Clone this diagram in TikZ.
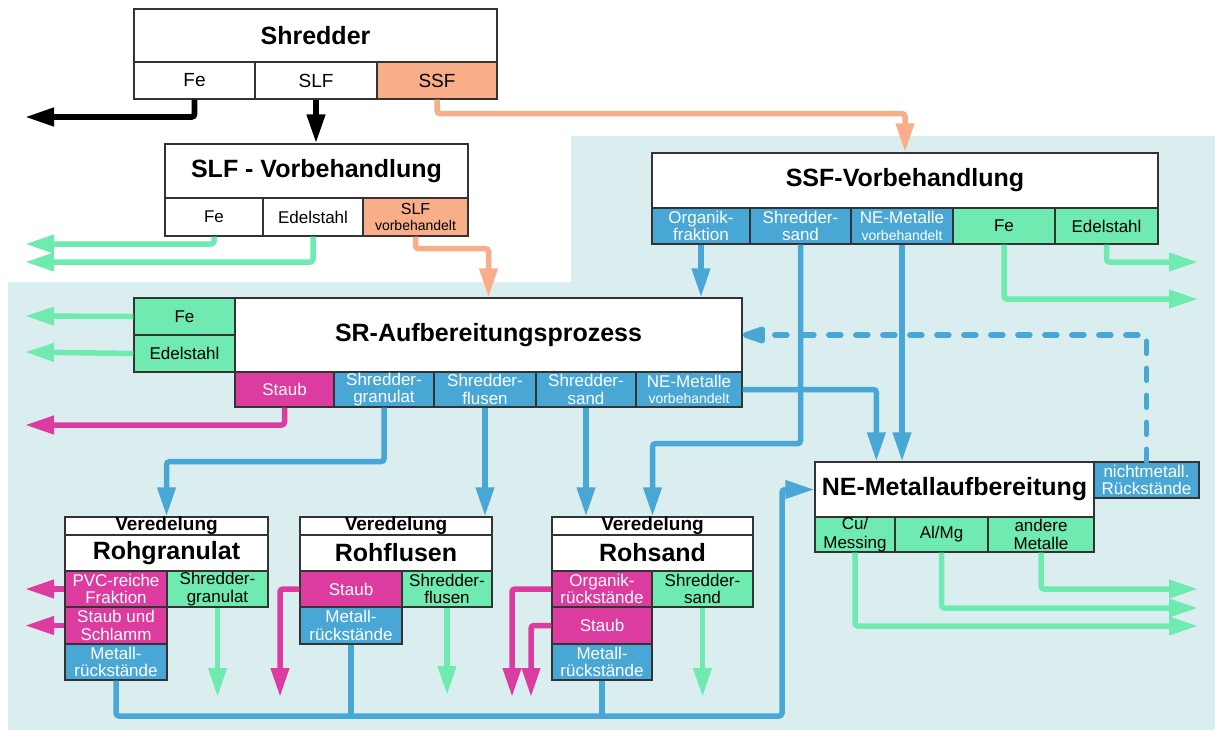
\documentclass[tikz,border=0pt]{standalone}
\usepackage{fontspec}
\setmainfont{Liberation Sans}
\usetikzlibrary{arrows.meta,calc}
\definecolor{bg}{HTML}{DAEEF0}
\definecolor{cgreen}{HTML}{6FEAB0}
\definecolor{cblue}{HTML}{48A7D4}
\definecolor{cmag}{HTML}{DC3BA0}
\definecolor{csal}{HTML}{F8AE88}
\definecolor{cline}{HTML}{333333}
\newcommand\ttlfont{\fontsize{25}{26}\selectfont\bfseries}
\newcommand\vbfont{\fontsize{14}{14}\selectfont}
\newcommand\vdfont{\fontsize{19}{19}\selectfont\bfseries}
\newcommand\rowfont{\fontsize{19}{19}\selectfont}
\tikzset{
  cellbox/.style={draw=cline, line width=1.3pt, inner sep=0pt},
  wcell/.style={fill=white, text=black},
  gcell/.style={fill=cgreen, text=black},
  bcell/.style={fill=cblue, text=white},
  mcell/.style={fill=cmag, text=white},
  scell/.style={fill=csal, text=black},
  celltext/.style={draw=none, fill=none, inner sep=0pt, align=center, font=\fontsize{17}{17.5}\selectfont},
  arr/.style={line width=5.5pt, rounded corners=3pt, -{Triangle[length=29pt,width=17.5pt]}},
  ln/.style={line width=5.5pt, rounded corners=3pt},
  dashln/.style={line width=5.5pt, line cap=round, dash pattern=on 12pt off 15pt, -{Triangle[length=29pt,width=17.5pt,round=false]}},
}
% name, x1, y1, x2, y2, style, text
\newcommand\cellnode[7]{%
  \node[cellbox,#6,minimum width={(#4-#2)*1pt},minimum height={(#5-#3)*1pt}] (#1) at ({(#2+#4)/2},{(#3+#5)/2}) {};
  \node[#6,celltext] at (#1.center) {#7};
}
\begin{document}
\begin{tikzpicture}[x=1pt,y=-1pt]
\useasboundingbox (0,0) rectangle (1215,731);
\fill[bg] (8,282) -- (571,282) -- (571,136) -- (1215,136) -- (1215,730) -- (8,730) -- cycle;

% Shredder
\cellnode{shr}{134}{9}{497}{62}{wcell}{\ttlfont Shredder}
\cellnode{shrfe}{134}{62}{255}{99}{wcell}{\rowfont Fe}
\cellnode{shrslf}{255}{62}{377}{99}{wcell}{\rowfont SLF}
\cellnode{shrssf}{377}{62}{497}{99}{scell}{\rowfont SSF}

% SLF-Vorbehandlung
\cellnode{slfv}{165}{144}{468}{198}{wcell}{\ttlfont SLF - Vorbehandlung}
\cellnode{slffe}{165}{198}{263}{236}{wcell}{Fe}
\cellnode{slfed}{263}{198}{363}{236}{wcell}{Edelstahl}
\cellnode{slfvb}{363}{198}{468}{236}{scell}{{\fontsize{16}{16}\selectfont SLF}\\[-2pt]{\vbfont vorbehandelt}}

% SSF-Vorbehandlung
\cellnode{ssfv}{652}{153}{1158}{208}{wcell}{\ttlfont SSF-Vorbehandlung}
\cellnode{ssforg}{652}{208}{750}{244}{bcell}{Organik-\\fraktion}
\cellnode{ssfsand}{750}{208}{851}{244}{bcell}{Shredder-\\sand}
\cellnode{ssfne}{851}{208}{953}{244}{bcell}{NE-Metalle\\[-1pt]{\vbfont vorbehandelt}}
\cellnode{ssffe}{953}{208}{1055}{244}{gcell}{Fe}
\cellnode{ssfed}{1055}{208}{1158}{244}{gcell}{Edelstahl}

% SR-Aufbereitungsprozess
\cellnode{sr}{235}{298}{742}{372}{wcell}{\ttlfont SR-Aufbereitungsprozess}
\cellnode{srfe}{134}{298}{235}{335}{gcell}{Fe}
\cellnode{sred}{134}{335}{235}{372}{gcell}{Edelstahl}
\cellnode{srstaub}{235}{372}{334}{407}{mcell}{Staub}
\cellnode{srgran}{334}{372}{434}{407}{bcell}{Shredder-\\granulat}
\cellnode{srflu}{434}{372}{536}{407}{bcell}{Shredder-\\flusen}
\cellnode{srsand}{536}{372}{636}{407}{bcell}{Shredder-\\sand}
\cellnode{srne}{636}{372}{742}{407}{bcell}{NE-Metalle\\[-1pt]{\vbfont vorbehandelt}}

% NE-Metallaufbereitung
\cellnode{ne}{815}{462}{1094}{517}{wcell}{\ttlfont NE-Metallaufbereitung}
\cellnode{nenm}{1094}{462}{1199}{498}{bcell}{nichtmetall.\\Rückstände}
\cellnode{necu}{815}{517}{895}{552}{gcell}{Cu/\\[1pt]Messing}
\cellnode{neal}{895}{517}{988}{552}{gcell}{Al/Mg}
\cellnode{neand}{988}{517}{1094}{552}{gcell}{andere\\[1pt]Metalle}

% Rohgranulat
\cellnode{rgv}{65}{517}{268}{535}{wcell}{\vdfont Veredelung}
\cellnode{rgt}{65}{535}{268}{571}{wcell}{\ttlfont Rohgranulat}
\cellnode{rgpvc}{65}{571}{167}{607}{mcell}{PVC-reiche\\Fraktion}
\cellnode{rggran}{167}{571}{268}{607}{gcell}{Shredder-\\granulat}
\cellnode{rgstaub}{65}{607}{167}{644}{mcell}{Staub und\\Schlamm}
\cellnode{rgmet}{65}{644}{167}{680}{bcell}{Metall-\\rückstände}

% Rohflusen
\cellnode{rfv}{300}{517}{492}{535}{wcell}{\vdfont Veredelung}
\cellnode{rft}{300}{535}{492}{571}{wcell}{\ttlfont Rohflusen}
\cellnode{rfstaub}{300}{571}{402}{607}{mcell}{Staub}
\cellnode{rfflu}{402}{571}{492}{607}{gcell}{Shredder-\\flusen}
\cellnode{rfmet}{300}{607}{402}{644}{bcell}{Metall-\\rückstände}

% Rohsand
\cellnode{rsv}{552}{517}{753}{535}{wcell}{\vdfont Veredelung}
\cellnode{rst}{552}{535}{753}{571}{wcell}{\ttlfont Rohsand}
\cellnode{rsorg}{552}{571}{652}{607}{mcell}{Organik-\\rückstände}
\cellnode{rssand}{652}{571}{753}{607}{gcell}{Shredder-\\sand}
\cellnode{rsstaub}{552}{607}{652}{644}{mcell}{Staub}
\cellnode{rsmet}{552}{644}{652}{680}{bcell}{Metall-\\rückstände}

% free ends
\coordinate (e1) at (25,117);
\coordinate (e2) at (25,244);
\coordinate (e3) at (25,262);
\coordinate (e4) at (1198,262);
\coordinate (e5) at (1198,299);
\coordinate (e6) at (25,316);
\coordinate (e7) at (25,352);
\coordinate (e8) at (25,425);
\coordinate (e9) at (25,589);
\coordinate (e10) at (25,626);
\coordinate (e11) at (215,697);
\coordinate (e12) at (280,697);
\coordinate (e13) at (447,695);
\coordinate (e14) at (512,697);
\coordinate (e15) at (531,697);
\coordinate (e16) at (703,697);
\coordinate (e17) at (1198,589);
\coordinate (e18) at (1198,608);
\coordinate (e19) at (1198,626);
\coordinate (bc) at (782,716);

% black
\draw[arr,black,line width=5.8pt] (shrfe.south) |- (e1);
\draw[arr,black,line width=5.8pt] (shrslf.south) -- (shrslf.south |- slfv.north);
% salmon
\draw[arr,csal] (shrssf.south) -- ++(0,14) -| (ssfv.north);
\draw[arr,csal] (slfvb.south) -- ++(0,12) -| (sr.north);
% green
\draw[arr,cgreen] (slffe.south) |- (e2);
\draw[arr,cgreen] (slfed.south) |- (e3);
\draw[arr,cgreen] (ssfed.south) |- (e4);
\draw[arr,cgreen] (ssffe.south) |- (e5);
\draw[arr,cgreen] (srfe.west) -- (e6);
\draw[arr,cgreen] (sred.west) -- (e7);
\draw[arr,cgreen] (rggran.south) -- (rggran.south |- e11);
\draw[arr,cgreen] (rfflu.south) -- (rfflu.south |- e13);
\draw[arr,cgreen] (rssand.south) -- (rssand.south |- e16);
\draw[arr,cgreen] (neand.south) |- (e17);
\draw[arr,cgreen] (neal.south) |- (e18);
\draw[arr,cgreen] (necu.south) |- (e19);
% magenta
\draw[arr,cmag] (srstaub.south) |- (e8);
\draw[arr,cmag] (rgpvc.west) -- (rgpvc.west -| e9);
\draw[arr,cmag] (rgstaub.west) -- (rgstaub.west -| e10);
\draw[arr,cmag] (rfstaub.west) -| (e12);
\draw[arr,cmag] (rsorg.west) -| (e14);
\draw[arr,cmag] (rsstaub.west) -| (e15);
% blue
\draw[arr,cblue] (ssforg.south) -- (ssforg.south |- sr.north);
\draw[arr,cblue] (ssfsand.south) -- ++(0,199) -| (rsv.north);
\draw[arr,cblue] (ssfne.south) -- (ssfne.south |- ne.north);
\draw[arr,cblue] (srgran.south) -- ++(0,54) -| (rgv.north);
\draw[arr,cblue] (srflu.south) -- (srflu.south |- rfv.north);
\draw[arr,cblue] (srsand.south) -- (srsand.south |- rsv.north);
\draw[arr,cblue] (srne.east) -| ([xshift=62pt]ne.north west);
\draw[dashln,cblue] (nenm.north) |- (sr.east);
\draw[arr,cblue] (rgmet.south) |- (bc) |- (ne.west);
\draw[ln,cblue] (rfmet.south) -- (rfmet.south |- bc);
\draw[ln,cblue] (rsmet.south) -- (rsmet.south |- bc);
\end{tikzpicture}
\end{document}
